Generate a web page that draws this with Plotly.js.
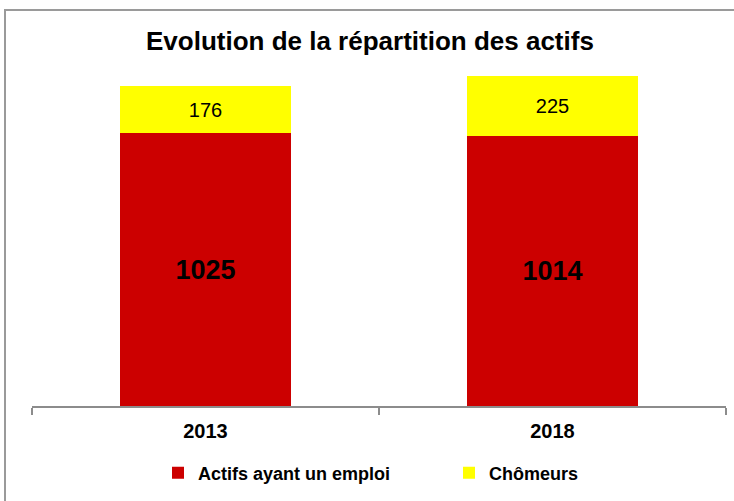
<!DOCTYPE html>
<html>
<head>
<meta charset="utf-8">
<script src="https://cdn.plot.ly/plotly-3.0.1.min.js"></script>
<style>
  html, body { margin: 0; padding: 0; overflow: hidden; background: #fff; }
  #chart { position: absolute; left: 0; top: 0; width: 734px; height: 501px; }
  #frame { position: absolute; left: 4px; top: 9px; width: 900px; height: 700px;
           border-top: 2px solid #9a9a9a; border-left: 2px solid #9a9a9a; pointer-events: none; }
</style>
</head>
<body>
<div id="chart"></div>
<div id="frame"></div>
<script>
const categories = ["2013", "2018"];
const actifsEmploi = [1025, 1014];
const chomeurs = [176, 225];
const seriesNames = ["Actifs ayant un emploi", "Chômeurs"];
const titleText = "Evolution de la répartition des actifs";

const FONT = '"Liberation Sans", Arial, sans-serif';

const traces = [
  {
    type: 'bar', name: seriesNames[0], x: categories, y: actifsEmploi,
    marker: { color: '#CC0000' }, width: 0.49,
    text: actifsEmploi.map(String), textposition: 'inside', insidetextanchor: 'middle',
    constraintext: 'none',
    textfont: { family: FONT, size: 27, color: '#000', weight: 'bold' },
    hoverinfo: 'skip'
  },
  {
    type: 'bar', name: seriesNames[1], x: categories, y: chomeurs,
    marker: { color: '#FFFF00' }, width: 0.49,
    text: chomeurs.map(String), textposition: 'inside', insidetextanchor: 'middle',
    constraintext: 'none',
    textfont: { family: FONT, size: 20, color: '#000' },
    hoverinfo: 'skip'
  }
];

const layout = {
  width: 734, height: 501,
  margin: { l: 32, r: 8, t: 60, b: 95 },
  paper_bgcolor: '#fff', plot_bgcolor: '#fff',
  barmode: 'stack',
  font: { family: FONT, color: '#000' },
  title: {
    text: titleText, xref: 'container', x: 0.504, xanchor: 'center',
    yref: 'container', y: 1 - 41 / 501, yanchor: 'middle',
    font: { family: FONT, size: 26, color: '#000', weight: 'bold' }
  },
  xaxis: {
    type: 'category', showline: true, linecolor: '#8c8c8c', linewidth: 2,
    ticks: 'outside', ticklen: 7, tickwidth: 2, tickcolor: '#8c8c8c', tickson: 'boundaries',
    showgrid: false, zeroline: false, ticklabelstandoff: 6,
    tickfont: { family: FONT, size: 20, color: '#000', weight: 'bold' }
  },
  yaxis: { range: [0, 1300], visible: false, showgrid: false, zeroline: false, fixedrange: true },
  showlegend: true,
  legend: {
    orientation: 'h', xref: 'container', yref: 'container',
    x: 158 / 734, xanchor: 'left', y: 1 - 473 / 501, yanchor: 'middle',
    entrywidth: 246, entrywidthmode: 'pixels', traceorder: 'normal',
    font: { family: FONT, size: 18, color: '#000', weight: 'bold' },
    bgcolor: 'rgba(0,0,0,0)'
  }
};

Plotly.newPlot('chart', traces, layout, { staticPlot: true, displayModeBar: false });
</script>
</body>
</html>
